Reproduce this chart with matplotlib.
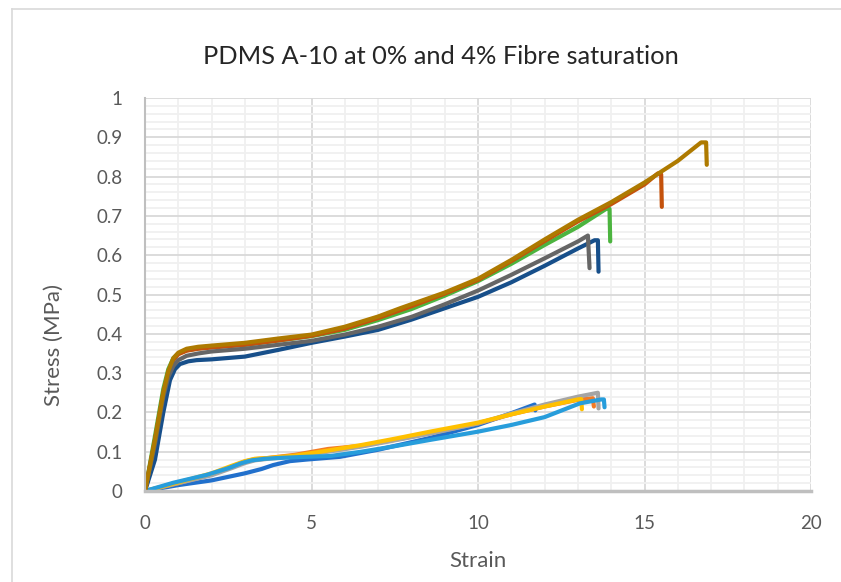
import matplotlib.pyplot as plt
from matplotlib.lines import Line2D
from matplotlib.ticker import MultipleLocator

plt.rcParams['font.family'] = ['Lato', 'DejaVu Sans']

# 0% fibre samples (upper group)
gold_x = [0, 0.3, 0.55, 0.7, 0.85, 1.0, 1.25, 1.6, 2, 3, 4, 5, 6, 7, 7.66, 9, 10, 11, 12, 13, 14, 15, 16, 16.7, 16.85, 16.87]
gold_y = [0, 0.13, 0.25, 0.305, 0.338, 0.352, 0.362, 0.367, 0.37, 0.377, 0.388, 0.398, 0.418, 0.444, 0.465, 0.505, 0.540, 0.588, 0.640, 0.690, 0.735, 0.785, 0.84, 0.887, 0.887, 0.83]

rust_x = [0, 0.3, 0.55, 0.7, 0.85, 1.0, 1.25, 1.6, 2, 3, 4, 5, 6, 7, 8, 9, 10, 11, 12, 13, 14, 15, 15.4, 15.5, 15.52]
rust_y = [0, 0.13, 0.25, 0.302, 0.333, 0.348, 0.357, 0.362, 0.365, 0.372, 0.383, 0.395, 0.413, 0.44, 0.47, 0.502, 0.537, 0.585, 0.636, 0.686, 0.73, 0.78, 0.808, 0.806, 0.723]

green_x = [0, 0.3, 0.55, 0.7, 0.85, 1.0, 1.25, 1.6, 2, 3, 4, 5, 6, 7, 8, 9, 10, 11, 12, 13, 13.85, 13.95, 13.97]
green_y = [0, 0.14, 0.26, 0.31, 0.338, 0.35, 0.358, 0.363, 0.367, 0.372, 0.383, 0.394, 0.41, 0.435, 0.463, 0.497, 0.534, 0.578, 0.626, 0.672, 0.718, 0.718, 0.635]

dgray_x = [0, 0.3, 0.55, 0.7, 0.85, 1.0, 1.25, 1.6, 2, 3, 4, 5, 6, 7, 8, 9, 10, 11, 12, 13, 13.3, 13.35]
dgray_y = [0, 0.12, 0.24, 0.29, 0.318, 0.333, 0.344, 0.35, 0.355, 0.362, 0.372, 0.382, 0.398, 0.418, 0.443, 0.475, 0.51, 0.55, 0.592, 0.635, 0.65, 0.567]

navy_x = [0, 0.3, 0.55, 0.75, 0.9, 1.05, 1.3, 1.55, 2, 3, 4, 5, 6, 7, 8, 9, 10, 11, 12, 13, 13.5, 13.6, 13.62]
navy_y = [0, 0.08, 0.2, 0.282, 0.31, 0.323, 0.33, 0.333, 0.335, 0.342, 0.359, 0.377, 0.393, 0.41, 0.436, 0.465, 0.494, 0.531, 0.573, 0.617, 0.638, 0.638, 0.558]

# 4% fibre samples (lower group)
blue_x = [0, 1, 2, 3, 3.5, 3.85, 4.35, 4.85, 5.86, 7, 8.56, 10, 11, 11.7, 11.72]
blue_y = [0, 0.015, 0.027, 0.045, 0.056, 0.066, 0.076, 0.08, 0.087, 0.105, 0.135, 0.168, 0.198, 0.22, 0.205]

orange_x = [0, 1, 2, 2.6, 3.0, 3.3, 3.7, 4.5, 5.5, 6.5, 7.5, 8.56, 10, 11, 12, 13, 13.45, 13.48]
orange_y = [0, 0.02, 0.042, 0.062, 0.075, 0.081, 0.084, 0.092, 0.107, 0.115, 0.13, 0.147, 0.172, 0.195, 0.215, 0.232, 0.236, 0.215]

lgray_x = [0, 1, 2, 2.6, 3.0, 3.3, 3.7, 4.5, 5.5, 6.5, 7.5, 8.56, 10, 11, 12, 13, 13.6, 13.62]
lgray_y = [0, 0.02, 0.04, 0.058, 0.071, 0.078, 0.082, 0.088, 0.1, 0.113, 0.129, 0.146, 0.172, 0.197, 0.22, 0.24, 0.25, 0.21]

yellow_x = [0, 1, 2, 2.6, 3.0, 3.3, 3.7, 4.5, 5.5, 6.5, 7.5, 8.56, 10, 11, 12, 13, 13.1, 13.12]
yellow_y = [0, 0.022, 0.045, 0.064, 0.076, 0.082, 0.084, 0.09, 0.103, 0.117, 0.133, 0.151, 0.174, 0.195, 0.215, 0.233, 0.234, 0.208]

sky_x = [0, 0.85, 1.85, 2.5, 2.9, 3.2, 3.6, 4.0, 4.85, 5.56, 6.5, 7.5, 8.56, 10, 11, 12, 13.06, 13.7, 13.78, 13.8]
sky_y = [0, 0.021, 0.041, 0.058, 0.071, 0.078, 0.082, 0.084, 0.087, 0.089, 0.1, 0.114, 0.13, 0.151, 0.168, 0.188, 0.223, 0.233, 0.233, 0.213]

series = [
    (blue_x, blue_y, '#2170CC'),
    (orange_x, orange_y, '#F47B25'),
    (lgray_x, lgray_y, '#A5A5A5'),
    (yellow_x, yellow_y, '#FFC000'),
    (sky_x, sky_y, '#279DDB'),
    (green_x, green_y, '#4CB43F'),
    (navy_x, navy_y, '#174F8A'),
    (rust_x, rust_y, '#C4520C'),
    (dgray_x, dgray_y, '#666666'),
    (gold_x, gold_y, '#AE7A00'),
]

fig = plt.figure(figsize=(8.41, 5.82), dpi=100)
ax = fig.add_axes([145/841, 1 - 491/582, 666/841, 393/582])

for xs, ys, c in series:
    ax.plot(xs, ys, color=c, lw=3, solid_capstyle='round', solid_joinstyle='round')

ax.set_xlim(0, 20)
ax.set_ylim(0, 1)
ax.xaxis.set_major_locator(MultipleLocator(5))
ax.xaxis.set_minor_locator(MultipleLocator(1))
ax.yaxis.set_minor_locator(MultipleLocator(0.02))
ax.set_yticks([0, 0.1, 0.2, 0.3, 0.4, 0.5, 0.6, 0.7, 0.8, 0.9, 1.0])
ax.set_yticklabels(['0', '0.1', '0.2', '0.3', '0.4', '0.5', '0.6', '0.7', '0.8', '0.9', '1'])
ax.grid(which='major', color='#D9D9D9', lw=1.3)
ax.grid(which='minor', color='#F0F0F0', lw=1.3)
ax.set_axisbelow(True)
ax.tick_params(which='both', length=0, labelsize=13.5, labelcolor='#595959')
ax.tick_params(axis='y', pad=16)
ax.tick_params(axis='x', pad=17)
for s in ['top', 'right']:
    ax.spines[s].set_visible(False)
ax.spines['left'].set_color('#BFBFBF')
ax.spines['left'].set_linewidth(1.5)
ax.spines['bottom'].set_color('#BFBFBF')
ax.spines['bottom'].set_linewidth(2.5)

fig.text(441/841, 1 - 56/582, 'PDMS A-10 at 0% and 4% Fibre saturation',
         ha='center', va='center', fontsize=18.3, color='#262626')
fig.text(478/841, 1 - 561/582, 'Strain', ha='center', va='center', fontsize=16, color='#595959')
fig.text(54/841, 1 - 345/582, 'Stress (MPa)', ha='center', va='center', rotation=90,
         fontsize=16, color='#595959')

# chart area border
fig.add_artist(Line2D([12/841, 12/841], [0, 1 - 9/582], transform=fig.transFigure, color='#D9D9D9', lw=1.2))
fig.add_artist(Line2D([12/841, 1], [1 - 9/582, 1 - 9/582], transform=fig.transFigure, color='#D9D9D9', lw=1.2))

fig.savefig('out.png', dpi=100)
